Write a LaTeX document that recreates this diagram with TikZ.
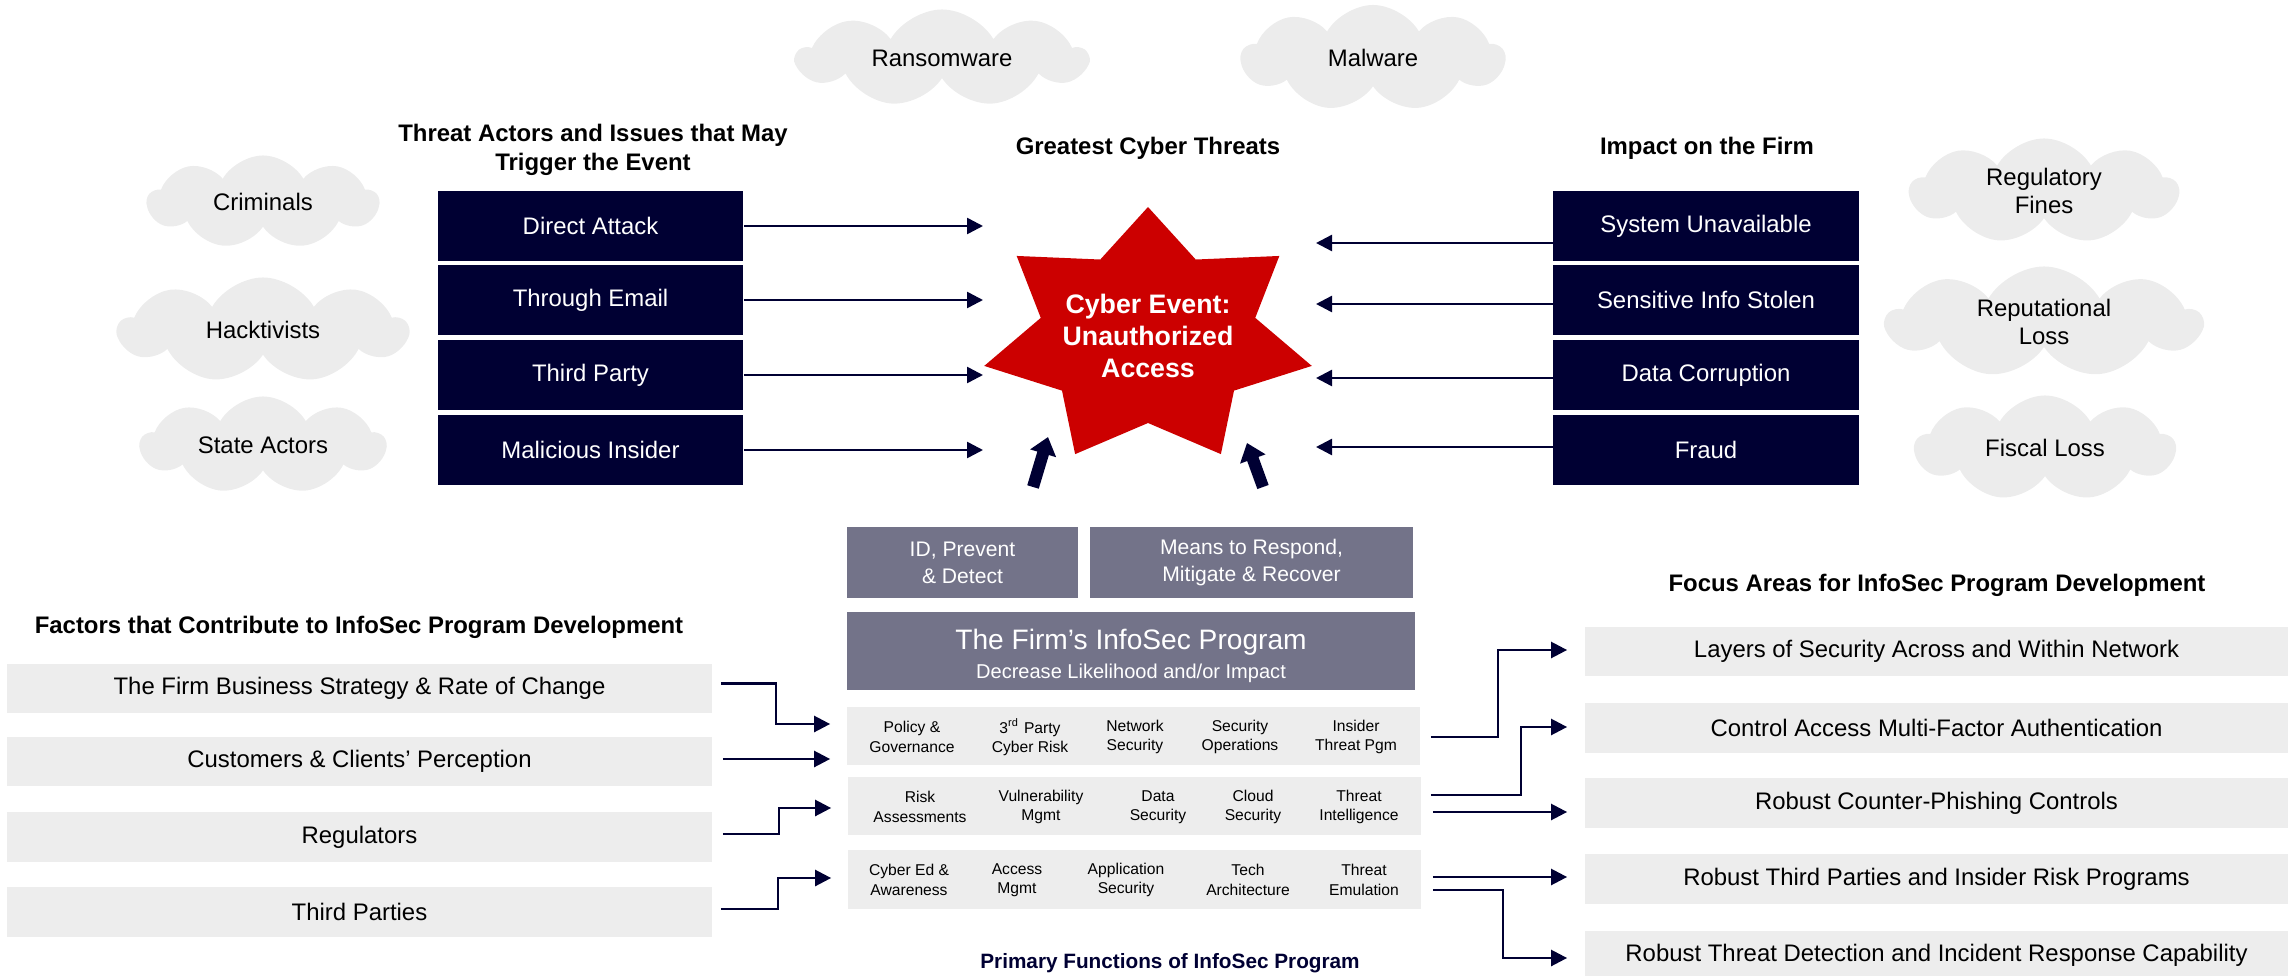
\documentclass[tikz,border=0pt]{standalone}
\usepackage{fontspec}
\setmainfont{Liberation Sans}
\usetikzlibrary{shapes.symbols,arrows.meta,calc}

\begin{document}
\begin{tikzpicture}[x=0.01cm,y=-0.01cm,
  actor/.style={fill=navy,text=white,minimum width=3.05cm,minimum height=0.70cm,inner sep=0pt,font=\fontsize{6.8}{8.2}\selectfont},
  puff/.style={cloud,cloud puffs=9,cloud puff arc=120,cloud ignores aspect,fill=cloudgrey,inner sep=0pt,align=center,font=\fontsize{6.8}{8.2}\selectfont},
  heading/.style={align=center,font=\fontsize{6.8}{8.3}\selectfont\bfseries},
  factor/.style={fill=lightgrey,minimum height=0.49cm,inner sep=0pt,font=\fontsize{6.8}{8.2}\selectfont},
  slatebox/.style={fill=slate,text=white,inner sep=0pt,align=center},
  rowbox/.style={fill=lightgrey,minimum width=5.73cm,minimum height=0.58cm,inner sep=0pt},
  func/.style={align=center,inner sep=0pt,font=\fontsize{4.45}{5.5}\selectfont},
  link/.style={draw=navy,line width=0.025cm,-{Triangle[length=0.16cm,width=0.16cm]}},
  bigarrow/.style={draw=navy,line width=0.12cm,-{Triangle[length=0.17cm,width=0.26cm]}}]
\definecolor{navy}{HTML}{000033}
\definecolor{slate}{HTML}{737389}
\definecolor{lightgrey}{HTML}{EDEDED}
\definecolor{cloudgrey}{HTML}{ECECEC}
\definecolor{cyberred}{HTML}{CC0000}
\useasboundingbox (0,0) rectangle (2288,976);

% threat clouds
\foreach \txt/\xx/\yy/\w/\h/\nm in {Criminals/263/202/2.31/0.93/cr,Hacktivists/263/330/2.89/1.05/hk,State Actors/263/445/2.45/0.97/st,Ransomware/942/58/2.90/0.97/rw,Malware/1373/58/2.63/1.06/mw,Regulatory\\Fines/2044/191/2.68/1.05/rf,Reputational\\Loss/2044/322/3.15/1.11/rl,Fiscal Loss/2045/448/2.60/1.05/fl}
  {\node[puff,minimum width=\w cm,minimum height=\h cm] (\nm) at (\xx,\yy) {\txt};}

% headings
\node[heading] (hthreat) at (593,150) {Threat Actors and Issues that May\\Trigger the Event};
\node[heading] (hcyber) at (1148,148) {Greatest Cyber Threats};
\node[heading] (himpact) at (1707,148) {Impact on the Firm};
\node[heading] (hfactor) at (359,627) {Factors that Contribute to InfoSec Program Development};
\node[heading] (hfocus) at (1937,585) {Focus Areas for InfoSec Program Development};
\node[heading,text=navy,font=\fontsize{5.9}{7}\selectfont\bfseries] (hprim) at (1170,963) {Primary Functions of InfoSec Program};

% actors and impacts
\foreach \txt/\yy/\i in {Direct Attack/226/1,Through Email/300/2,Third Party/375/3,Malicious Insider/450/4}
  {\node[actor] (a\i) at (590.5,\yy) {\txt};}
\foreach \txt/\yy/\i in {System Unavailable/226/1,Sensitive Info Stolen/300/2,Data Corruption/375/3,Fraud/450/4}
  {\node[actor] (i\i) at (1706,\yy) {\txt};}

% the event star
\begin{scope}[shift={(1148,337)}]
\fill[cyberred] (-90:168 and 130)
  \foreach \k in {1,...,6} {-- ({\k*360/7-90-180/7}:110 and 86) -- ({\k*360/7-90}:168 and 130)}
  -- ({-90-180/7}:110 and 86) -- cycle;
\end{scope}
\node[align=center,text=white,font=\fontsize{7.6}{9}\selectfont\bfseries] (ev) at (1148,336) {Cyber Event:\\Unauthorized\\Access};

\coordinate (lft) at (983,0);
\coordinate (rgt) at (1316,0);
\foreach \i in {1,...,4}
  {\draw[link] (a\i.east) -- (a\i.east -| lft);}
\foreach \i/\dy in {1/17,2/4,3/3,4/-3}
  {\draw[link] ($(i\i.west)+(0,\dy)$) -- ($(i\i.west -| rgt)+(0,\dy)$);}

\coordinate (upl) at (1033,487);
\coordinate (upltip) at (1048,437);
\coordinate (upr) at (1263,487);
\coordinate (uprtip) at (1247,443);
\draw[bigarrow] (upl) -- (upltip);
\draw[bigarrow] (upr) -- (uprtip);

% program blocks
\node[slatebox,minimum width=2.31cm,minimum height=0.71cm,font=\fontsize{6}{7.7}\selectfont] (idp) at (962.5,562.5) {ID, Prevent\\\& Detect};
\node[slatebox,minimum width=3.23cm,minimum height=0.71cm,font=\fontsize{6}{7.7}\selectfont] (mrr) at (1251.5,562.5) {Means to Respond,\\Mitigate \& Recover};
\node[slatebox,minimum width=5.68cm,minimum height=0.78cm] (prog) at (1131,651) {};
\node[align=center,text=white,inner sep=0pt] (progtxt) at (1131,656) {\fontsize{8}{9}\selectfont The Firm’s InfoSec Program\\[-3.7pt]\fontsize{5.7}{8.4}\selectfont Decrease Likelihood and/or Impact};

\node[rowbox] (r1) at (1133.5,736) {};
\node[rowbox] (r2) at (1134.5,806) {};
\node[rowbox,minimum height=0.59cm] (r3) at (1134.5,879.5) {};
\foreach \txt/\xx [count=\c] in {Policy \&\\Governance/912,3\textsuperscript{rd} Party\\Cyber Risk/1030,Network\\Security/1135,Security\\Operations/1240,Insider\\Threat Pgm/1356}
  {\node[func] (pa\c) at (\xx,737) {\txt};}
\foreach \txt/\xx [count=\c] in {Risk\\Assessments/920,Vulnerability\\Mgmt/1041,Data\\Security/1158,Cloud\\Security/1253,Threat\\Intelligence/1359}
  {\node[func] (pb\c) at (\xx,807) {\txt};}
\foreach \txt/\xx [count=\c] in {Cyber Ed \&\\Awareness/909,Access\\Mgmt/1017,Application\\Security/1126,Tech\\Architecture/1248,Threat\\Emulation/1364}
  {\node[func] (pc\c) at (\xx,880) {\txt};}

% factors and focus areas
\foreach \txt/\yy [count=\i] in {The Firm Business Strategy \& Rate of Change/688.5,Customers \& Clients’ Perception/761.5,Regulators/837,Third Parties/912}
  {\node[factor,minimum width=7.05cm] (f\i) at (359.5,\yy) {\txt};}
\foreach \txt/\yy [count=\i] in {Layers of Security Across and Within Network/651.5,Control Access Multi-Factor Authentication/728,Robust Counter-Phishing Controls/803,Robust Third Parties and Insider Risk Programs/879,Robust Threat Detection and Incident Response Capability/955.5}
  {\node[factor,minimum width=7.03cm] (fa\i) at (1936.5,\yy) {\txt};}

\draw[link] ($(f1.east)+(8,-5)$) -- ++(55,0) |- ($(r1.west)+(-16,-12)$);
\draw[link] ($(f2.east)+(10,-2.5)$) -- ($(r1.west)+(-16,23)$);
\draw[link] ($(f3.east)+(10,-3)$) -- ++(56,0) |- ($(r2.west)+(-16,2)$);
\draw[link] ($(f4.east)+(8,-3)$) -- ++(57,0) |- ($(r3.west)+(-16,-1.5)$);

\draw[link] ($(r1.east)+(10,1)$) -- ++(67,0) |- ($(fa1.west)+(-17,-1.5)$);
\draw[link] ($(r2.east)+(9,-11)$) -- ++(90,0) |- ($(fa2.west)+(-17,-1)$);
\draw[link] ($(r2.east)+(11,6)$) -- ($(fa3.west)+(-17,9)$);
\draw[link] ($(r3.east)+(11,-2.5)$) -- ($(fa4.west)+(-17,-2)$);
\draw[link] ($(r3.east)+(11,10.5)$) -- ++(70,0) |- ($(fa5.west)+(-17,2.5)$);
\end{tikzpicture}
\end{document}
